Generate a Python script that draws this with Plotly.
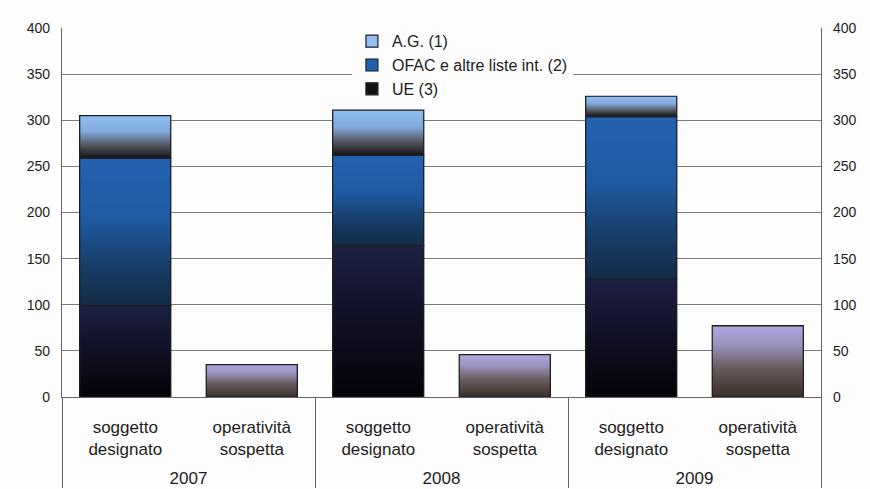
import plotly.graph_objects as go

# --- data -------------------------------------------------------------
years = ["2007", "2007", "2008", "2008", "2009", "2009"]
# a blank last line leaves room between the labels and the year row
kinds = ["soggetto<br>designato<br>\u00a0", "operatività<br>sospetta<br>\u00a0"] * 3

ue = [99, None, 164, None, 128, None]        # UE (3)
ofac = [160, None, 98, None, 176, None]      # OFAC e altre liste int. (2)
ag = [46, None, 49, None, 22, None]          # A.G. (1)
oper = [None, 35, None, 46, None, 77]        # operatività sospetta

y_ticks = [0, 50, 100, 150, 200, 250, 300, 350, 400]

# --- styling ----------------------------------------------------------
FONT = "Liberation Sans, Arial, sans-serif"
TXT = "#1c1c1c"
GRID = "#7a7a7a"
AXIS = "#666666"
EDGE = "#1e1e24"
BARGAP = 0.28

series = [
    # name, values, legend colour, vertical gradient (bottom -> top), in legend
    ("UE (3)", ue, "#121218",
     [[0, "#050307"], [0.5, "#101024"], [1, "#1d2143"]], True),
    ("OFAC e altre liste int. (2)", ofac, "#2060ad",
     [[0, "#132b45"], [0.3, "#18406d"], [0.6, "#1f5ba4"], [1, "#2462b0"]], True),
    ("A.G. (1)", ag, "#90bff0",
     [[0, "#141419"], [0.3, "#55555f"], [0.62, "#7fa9da"], [1, "#8fc0f2"]], True),
    ("operatività sospetta", oper, "#a7a3d6",
     [[0, "#3a2e2a"], [0.4, "#675a5b"], [0.75, "#9c95c2"], [1, "#aba7da"]], False),
]

fig = go.Figure()

# stacked bars on the multicategory axis (they carry the legend)
for name, vals, col, _, show in series:
    fig.add_trace(go.Bar(
        x=[years, kinds], y=vals, name=name, showlegend=show,
        marker=dict(color=col, line=dict(color=EDGE, width=1.2)),
        xaxis="x", yaxis="y", hoverinfo="skip",
    ))

# gradient-filled outlines drawn over each stacked segment
half = (1 - BARGAP) / 2
base = [0.0] * len(years)
for name, vals, col, scale, _ in series:
    for i, v in enumerate(vals):
        if v is None:
            continue
        b, t = base[i], base[i] + v
        base[i] = t
        fig.add_trace(go.Scatter(
            x=[i - half, i + half, i + half, i - half, i - half],
            y=[b, b, t, t, b],
            mode="lines", fill="toself",
            fillgradient=dict(type="vertical", colorscale=scale, start=b, stop=t),
            line=dict(color=EDGE, width=1.2),
            xaxis="x2", yaxis="y2", showlegend=False, hoverinfo="skip",
        ))

axis_common = dict(range=[0, 400], tickvals=y_ticks, ticks="",
                   ticklabelstandoff=8,
                   tickfont=dict(family=FONT, size=14, color=TXT),
                   showline=True, linecolor=AXIS, linewidth=1.3,
                   zeroline=False, fixedrange=True)

fig.update_layout(
    width=870, height=489,
    margin=dict(l=62, r=49, t=28, b=92),
    paper_bgcolor="#fdfdfd", plot_bgcolor="#fdfdfd",
    barmode="stack", bargap=BARGAP,
    font=dict(family=FONT, color=TXT),
    xaxis=dict(type="multicategory", range=[-0.5, 5.5],
               tickfont=dict(family=FONT, size=17, color=TXT),
               ticks="", ticklabelstandoff=14, automargin=False,
               showline=True, linecolor=AXIS, linewidth=1.3,
               showdividers=True, dividercolor=AXIS, dividerwidth=1.3,
               showgrid=False, fixedrange=True),
    xaxis2=dict(range=[-0.5, 5.5], overlaying="x", visible=False,
                anchor="y2", fixedrange=True),
    yaxis=dict(side="left", showgrid=True, gridcolor=GRID, gridwidth=1.4,
               **axis_common),
    yaxis2=dict(side="right", overlaying="y", anchor="x2", showgrid=False,
                **axis_common),
    legend=dict(x=0.382, y=1.01, xanchor="left", yanchor="top",
                bgcolor="#fdfdfd", borderwidth=0,
                font=dict(family=FONT, size=16, color=TXT),
                traceorder="reversed"),
    showlegend=True,
)

fig.write_html("out.html")
